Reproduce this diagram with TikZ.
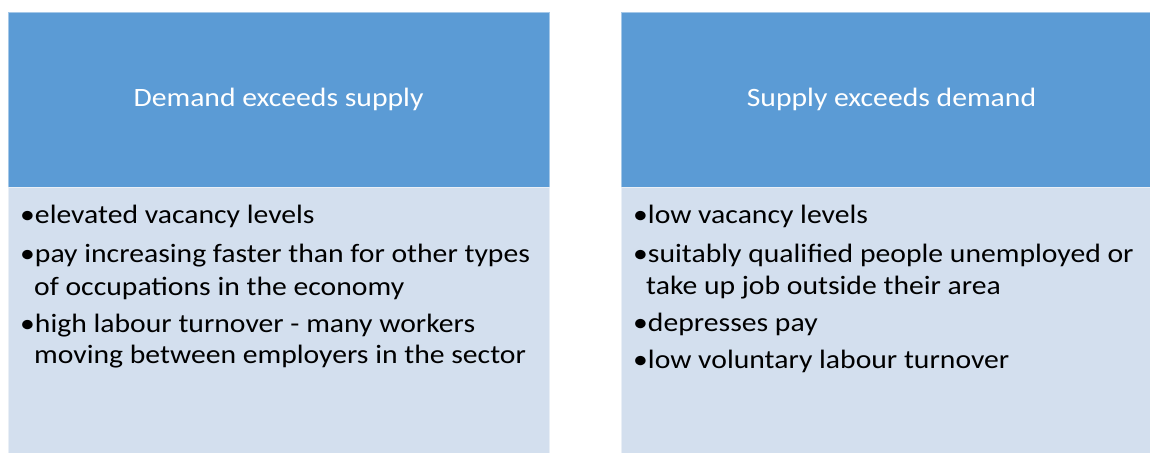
\documentclass[tikz,border=0pt]{standalone}
\usepackage{fontspec}
\setmainfont{Carlito}[FakeStretch=1.12]
\definecolor{headblue}{HTML}{5B9BD5}
\definecolor{bodyblue}{HTML}{D3DFEE}
\begin{document}
\begin{tikzpicture}[x=1pt,y=-1pt,
  head/.style={fill=headblue, draw=white!45!headblue, line width=0.8pt, anchor=north west,
    minimum width=541pt, minimum height=175pt, inner sep=0pt, outer sep=0pt},
  body/.style={fill=bodyblue, draw=white!50!bodyblue, line width=0.8pt, anchor=north west,
    minimum width=541pt, minimum height=280pt, inner sep=0pt, outer sep=0pt},
  headtxt/.style={anchor=base, text=white, font=\fontsize{26.5}{30}\selectfont, inner sep=0pt},
  itm/.style={anchor=base west, text=black, font=\fontsize{26.5}{30}\selectfont, inner sep=0pt}]
\clip (0,0) rectangle (1150,452);
\fill[white] (0,0) rectangle (1150,452);
% left column
\node[head] (h1) at (8,12) {};
\node[body] (b1) at (8,187) {};
\node[headtxt] (h1t) at (278.5,106) {Demand exceeds supply};
\node[itm] (l1) at (20,223) {•elevated vacancy levels};
\node[itm] (l2) at (20,262) {•pay increasing faster than for other types};
\node[itm] (l3) at (34,295) {of occupations in the economy};
\node[itm] (l4) at (20,332) {•high labour turnover - many workers};
\node[itm] (l5) at (34,363) {moving between employers in the sector};
% right column
\node[head] (h2) at (621,12) {};
\node[body] (b2) at (621,187) {};
\node[headtxt] (h2t) at (891.5,106) {Supply exceeds demand};
\node[itm] (r1) at (633,223) {•low vacancy levels};
\node[itm] (r2) at (633,262) {•suitably qualified people unemployed or};
\node[itm] (r3) at (646,294) {take up job outside their area};
\node[itm] (r4) at (633,331) {•depresses pay};
\node[itm] (r5) at (633,368) {•low voluntary labour turnover};
\end{tikzpicture}
\end{document}
